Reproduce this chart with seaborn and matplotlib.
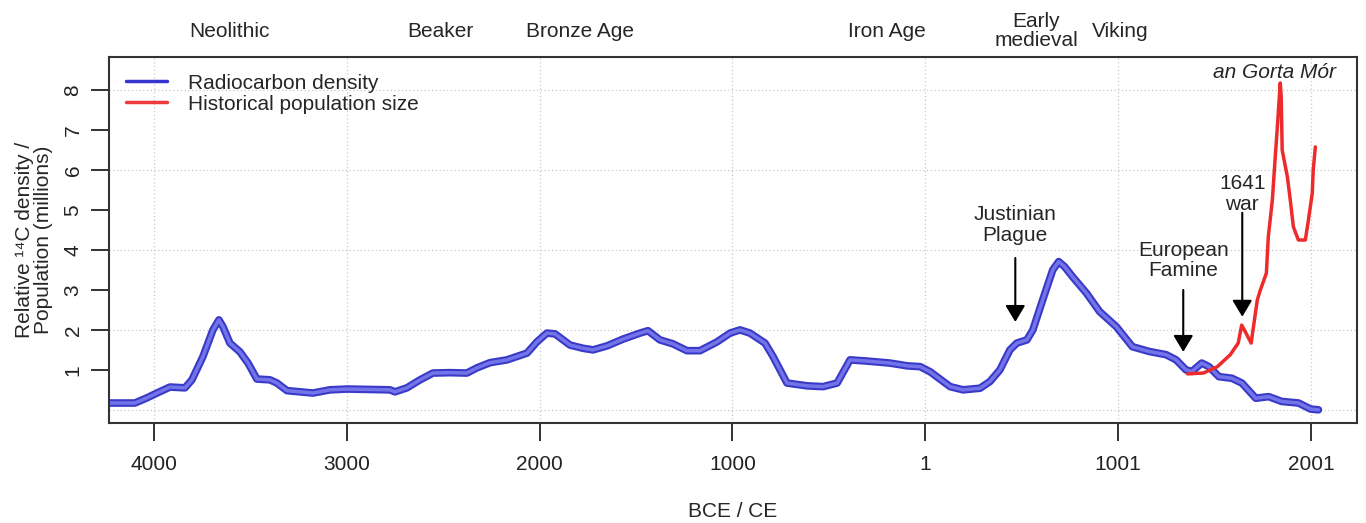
import numpy as np
import pandas as pd
import matplotlib
matplotlib.use("Agg")
import matplotlib.pyplot as plt
import seaborn as sns
from matplotlib.lines import Line2D

# radiocarbon density curve (years, BCE negative)
rc_year = [-4228, -4099, -4036, -3984, -3917, -3839, -3803, -3746, -3694, -3663,
           -3642, -3606, -3554, -3512, -3466, -3398, -3362, -3310, -3243, -3175,
           -3087, -2999, -2776, -2750, -2688, -2620, -2553, -2465, -2377, -2325,
           -2257, -2169, -2065, -2014, -1962, -1920, -1842, -1775, -1723, -1650,
           -1567, -1479, -1438, -1376, -1308, -1236, -1168, -1080, -1012, -961,
           -909, -831, -789, -717, -613, -530, -457, -390, -302, -183,
           -93, -26, 26, 129, 196, 284, 336, 387, 439, 475,
           527, 558, 609, 661, 692, 723, 764, 836, 904, 991,
           1074, 1161, 1249, 1301, 1352, 1383, 1434, 1471, 1523, 1590,
           1642, 1714, 1781, 1848, 1936, 1998, 2039]
rc_dens = [0.17, 0.17, 0.30, 0.42, 0.57, 0.55, 0.75, 1.33, 2.00, 2.25,
           2.08, 1.67, 1.45, 1.17, 0.77, 0.75, 0.67, 0.48, 0.45, 0.42,
           0.50, 0.52, 0.50, 0.45, 0.55, 0.75, 0.92, 0.93, 0.92, 1.05,
           1.18, 1.25, 1.42, 1.70, 1.92, 1.90, 1.62, 1.54, 1.50, 1.60,
           1.77, 1.92, 1.98, 1.75, 1.65, 1.48, 1.48, 1.70, 1.92, 2.00,
           1.92, 1.67, 1.33, 0.67, 0.60, 0.58, 0.67, 1.25, 1.22, 1.17,
           1.10, 1.08, 0.95, 0.58, 0.50, 0.54, 0.71, 1.00, 1.50, 1.67,
           1.75, 2.00, 2.75, 3.50, 3.71, 3.58, 3.33, 2.92, 2.46, 2.08,
           1.58, 1.46, 1.38, 1.25, 1.00, 0.96, 1.17, 1.08, 0.83, 0.79,
           0.67, 0.29, 0.33, 0.21, 0.17, 0.02, 0.00]

# historical population of Ireland (millions)
pop_year = [1360, 1442, 1515, 1582, 1623, 1641, 1660, 1690, 1722, 1738,
            1769, 1779, 1800, 1815, 1826, 1841, 1846, 1851, 1878, 1893,
            1909, 1935, 1971, 1987, 2007, 2012, 2023]
pop_size = [0.90, 0.92, 1.08, 1.38, 1.67, 2.12, 1.95, 1.67, 2.75, 3.00,
            3.42, 4.33, 5.25, 6.33, 7.08, 8.18, 7.83, 6.50, 5.83, 5.25,
            4.58, 4.25, 4.25, 4.75, 5.42, 6.00, 6.58]

tick_pos = [-4000, -3000, -2000, -1000, 0, 1000, 2000]
tick_lab = ["4000", "3000", "2000", "1000", "1", "1001", "2001"]

periods = ["Neolithic", "Beaker", "Bronze Age", "Iron Age", "Early\nmedieval", "Viking"]
period_x = [-3606, -2517, -1790, -197, 576, 1011]

events = ["Justinian\nPlague", "European\nFamine", "1641\nwar"]
event_x = [467, 1338, 1644]
event_text_y = [4.63, 3.74, 5.4]
event_from_y = [3.8, 3.0, 4.93]
event_to_y = [2.2, 1.45, 2.33]

sns.set_style("white")
plt.rcParams['font.family'] = ['Liberation Sans', 'DejaVu Sans']
plt.rcParams['font.size'] = 15

rc = pd.DataFrame({'year': rc_year, 'dens': rc_dens})
pop = pd.DataFrame({'year': pop_year, 'size': pop_size})

fig = plt.figure(figsize=(13.66, 5.23), dpi=100)
ax = fig.add_axes([109/1366, 1 - 423/523, 1248/1366, 366/523])

# grid (dotted, R style)
for t in tick_pos:
    ax.axvline(t, color='#c8c8c8', lw=0.9, ls=(0, (1, 2)), zorder=0)
for g in [0, 2, 4, 6, 8]:
    ax.axhline(g, color='#c8c8c8', lw=0.9, ls=(0, (1, 2)), zorder=0)

# blue band: dark outline with lighter core
sns.lineplot(data=rc, x='year', y='dens', color='#3a3ac8', lw=5.5, ax=ax, sort=False)
sns.lineplot(data=rc, x='year', y='dens', color='#7474ea', lw=2.5, ax=ax, sort=False)
sns.lineplot(data=pop, x='year', y='size', color='#ee2a2a', lw=2.5, ax=ax, sort=False)

ax.set_xlim(-4233, 2239)
ax.set_ylim(-0.33, 8.83)
ax.set_xticks(tick_pos)
ax.set_xticklabels(tick_lab)
ax.set_yticks(range(1, 9))
ax.set_yticklabels([str(i) for i in range(1, 9)], rotation=90, va='center')
ax.tick_params(axis='x', bottom=True, direction='out', length=13, width=1.3, pad=10,
               labelsize=15, colors='#222222')
ax.tick_params(axis='y', left=True, direction='out', length=13, width=1.3, pad=6,
               labelsize=15, colors='#222222')
for s in ax.spines.values():
    s.set_color('#333333')
    s.set_linewidth(1.5)

ax.set_xlabel("BCE / CE", fontsize=15)
ax.xaxis.set_label_coords(0.5, -0.215)
ax.set_ylabel("Relative ¹⁴C density /\nPopulation (millions)", fontsize=15, linespacing=1.0)
ax.yaxis.set_label_coords(-0.045, 0.5)

# period names above plot
for name, px in zip(periods, period_x):
    ax.text(px, 9.47, name, ha='center', va='center', fontsize=15,
            linespacing=1.0, clip_on=False)

# event annotations
for name, ex, ty, fy, toy in zip(events, event_x, event_text_y, event_from_y, event_to_y):
    ax.text(ex, ty, name, ha='center', va='center', fontsize=15, linespacing=1.1)
    ax.annotate("", xy=(ex, toy), xytext=(ex, fy),
                arrowprops=dict(arrowstyle="-|>,head_length=0.5,head_width=0.3",
                                color='black', lw=1.5, mutation_scale=20,
                                shrinkA=0, shrinkB=0))

ax.text(1810, 8.43, "an Gorta Mór", ha='center', va='center', fontsize=15, style='italic')

handles = [Line2D([], [], color='#3434d0', lw=2.5),
           Line2D([], [], color='#ee3a3a', lw=2.5)]
ax.legend(handles, ["Radiocarbon density", "Historical population size"],
          loc='upper left', frameon=False, handlelength=2.0, handletextpad=1.0,
          labelspacing=0.1, borderaxespad=0.4, fontsize=15)

fig.savefig("out.png", dpi=100)
